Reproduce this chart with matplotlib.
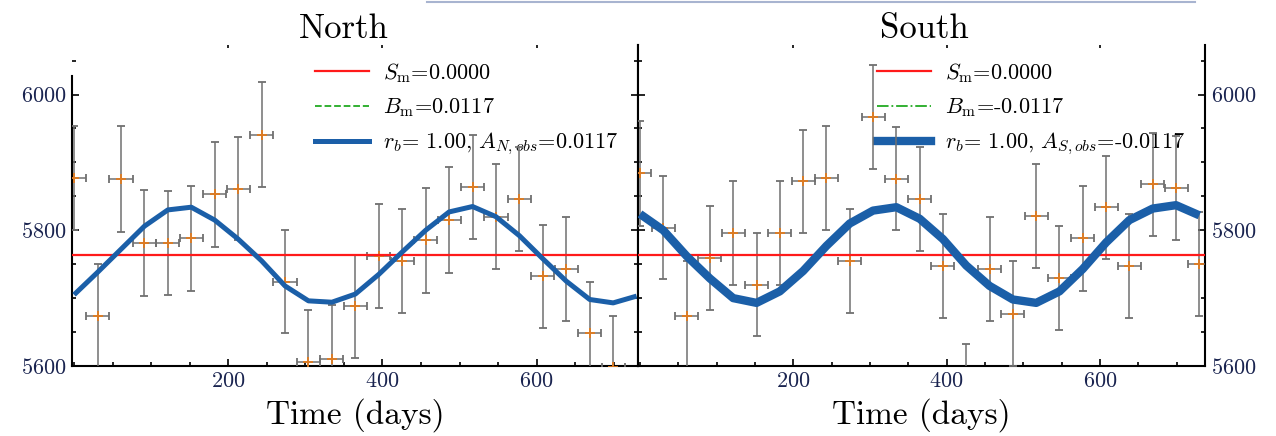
import matplotlib
matplotlib.use("Agg")
import matplotlib.pyplot as plt
from matplotlib.lines import Line2D
from matplotlib.ticker import MultipleLocator, FixedLocator

plt.rcParams['font.family'] = ['cmr10', 'DejaVu Serif']
plt.rcParams['mathtext.fontset'] = 'cm'
plt.rcParams['axes.formatter.use_mathtext'] = True

# ---------------- data ----------------
north_days = [0, 30.4, 60.8, 91.2, 121.6, 152.0, 182.4, 212.8, 243.2, 273.6, 304.0, 334.4,
              364.8, 395.2, 425.6, 456.0, 486.4, 516.8, 547.2, 577.6, 608.0, 638.4, 668.8, 699.2]
north_vals = [5877, 5674, 5876, 5781, 5781, 5788, 5853, 5861, 5941, 5724, 5606, 5610,
              5688, 5762, 5755, 5785, 5815, 5864, 5820, 5846, 5732, 5743, 5648, 5598]
north_err = [77, 77, 78, 78, 77, 77, 77, 76, 77, 76, 77, 80,
             76, 77, 77, 77, 78, 77, 77, 76, 76, 77, 76, 76]

south_days = [0, 30.4, 60.8, 91.2, 121.6, 152.0, 182.4, 212.8, 243.2, 273.6, 304.0, 334.4,
              364.8, 395.2, 425.6, 456.0, 486.4, 516.8, 547.2, 577.6, 608.0, 638.4, 668.8, 699.2, 729.6]
south_vals = [5884, 5804, 5673, 5759, 5796, 5720, 5796, 5872, 5877, 5755, 5967, 5876,
              5846, 5747, 5556, 5743, 5677, 5821, 5730, 5788, 5834, 5747, 5868, 5862, 5750]
south_err = [77, 76, 82, 77, 76, 76, 76, 76, 76, 77, 77, 76,
             76, 77, 77, 77, 77, 77, 77, 77, 76, 77, 76, 77, 77]
time_err = 15.0

fit_days = [0, 30.4, 60.8, 91.2, 121.6, 152.0, 182.4, 212.8, 243.2, 273.6, 304.0, 334.4,
            364.8, 395.2, 425.6, 456.0, 486.4, 516.8, 547.2, 577.6, 608.0, 638.4, 668.8, 699.2, 729.6]
north_fit = [5705, 5738, 5772, 5806, 5830, 5834, 5815, 5787, 5755, 5718, 5696, 5694,
             5706, 5735, 5768, 5800, 5827, 5835, 5820, 5792, 5758, 5725, 5698, 5693, 5703]
south_fit = [5824, 5800, 5762, 5729, 5700, 5693, 5710, 5740, 5777, 5810, 5829, 5834,
             5817, 5787, 5748, 5718, 5698, 5693, 5710, 5743, 5782, 5815, 5832, 5837, 5822]
mean_level = 5763

panel_titles = ["North", "South"]
legend_north = [r"$S_{\rm m}$=0.0000", r"$B_{\rm m}$=0.0117", r"$r_b$= 1.00, $A_{N,obs}$=0.0117"]
legend_south = [r"$S_{\rm m}$=0.0000", r"$B_{\rm m}$=-0.0117", r"$r_b$= 1.00, $A_{S,obs}$=-0.0117"]
xticks = [200, 400, 600]
yticks = [5600, 5800, 6000]

# ---------------- figure ----------------
W, H = 1276, 436
fig = plt.figure(figsize=(W / 100, H / 100), dpi=100)

def fr(x0, x1, y0, y1):
    return [x0 / W, 1 - y1 / H, (x1 - x0) / W, (y1 - y0) / H]

axN = fig.add_axes(fr(72, 638, 45, 366))
axS = fig.add_axes(fr(638, 1205, 45, 366))

BLUE = '#1b5fa8'
RED = '#ff1a1a'
GREEN = '#22aa22'
GRAY = '#707070'
ORANGE = '#e07b20'
TICKC = '#1a2450'

configs = [
    (axN, north_days, north_vals, north_err, north_fit, legend_north, panel_titles[0],
     (-2.7, 731.4), 3.6, '--', 0.43, 0.481),
    (axS, south_days, south_vals, south_err, south_fit, legend_south, panel_titles[1],
     (-2.6, 737.0), 6.0, '-.', 0.422, 0.505),
]

for ax, d, v, e, fit, labs, title, xl, fitlw, gls, legx, titx in configs:
    ax.errorbar(d, v, yerr=e, xerr=time_err, fmt='+', color=ORANGE, ms=6.5, mew=1.3,
                ecolor=GRAY, elinewidth=1.1, capsize=3, capthick=1.1, zorder=3)
    ax.axhline(mean_level, color=RED, lw=1.6, zorder=4)
    ax.plot(fit_days, fit, color=BLUE, lw=fitlw, zorder=5, solid_capstyle='butt')
    ax.set_xlim(*xl)
    ax.set_ylim(5600, 6073)

    handles = [Line2D([], [], color=RED, lw=1.6),
               Line2D([], [], color=GREEN, lw=1.3, ls=gls),
               Line2D([], [], color=BLUE, lw=fitlw)]
    leg = ax.legend(handles, labs, loc='upper left', bbox_to_anchor=(legx, 0.95),
                    frameon=False, fontsize=16, handlelength=2.4, handletextpad=0.65,
                    labelspacing=0.52, borderpad=0, borderaxespad=0)
    leg.set_zorder(2)

    ax.set_title(title, fontsize=25, x=titx, pad=4)
    ax.set_xlabel("Time (days)", fontsize=24, labelpad=5)

    ax.xaxis.set_major_locator(FixedLocator(xticks))
    ax.xaxis.set_minor_locator(MultipleLocator(50))
    ax.yaxis.set_major_locator(FixedLocator(yticks))
    ax.yaxis.set_minor_locator(MultipleLocator(50))
    ax.tick_params(axis='both', which='both', direction='in', colors='black',
                   labelcolor=TICKC, labelsize=16, width=1.2)
    ax.tick_params(axis='both', which='major', length=5)
    ax.tick_params(axis='both', which='minor', length=3)
    ax.tick_params(axis='y', which='both', left=True, right=True)
    ax.tick_params(axis='x', which='both', top=False, pad=4)
    ax.spines['top'].set_visible(False)
    for s in ['left', 'right', 'bottom']:
        ax.spines[s].set_linewidth(1.5)

    sec = ax.secondary_xaxis('top')
    sec.set_xticks(xticks)
    sec.tick_params(direction='in', length=2.5, width=1.2, labeltop=False)
    sec.spines['top'].set_visible(False)

axN.tick_params(axis='y', labelleft=True, labelright=False, pad=4)
axN.spines['left'].set_bounds(5600, 6027)
axS.tick_params(axis='y', labelleft=False, labelright=True, pad=4)

# faint frame line at the top of the image
fig.add_artist(Line2D([427 / W, 1195 / W], [1 - 2 / H, 1 - 2 / H], color='#a8b4d0', lw=1.5))

fig.savefig("out.png", dpi=100)
